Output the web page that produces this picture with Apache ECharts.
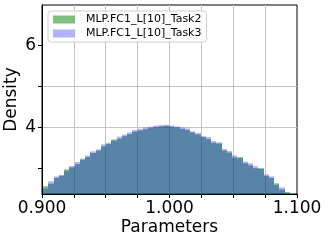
<!DOCTYPE html>
<html><head><meta charset="utf-8">
<script src="https://cdn.jsdelivr.net/npm/echarts@6/dist/echarts.min.js"></script>
<style>html,body{margin:0;padding:0;background:#fff}#c{width:329px;height:244px}</style>
</head><body><div id="c"></div>
<script>
const seriesNames = ['MLP.FC1_L[10]_Task2', 'MLP.FC1_L[10]_Task3'];
const binStart = 0.9008;
const binWidth = 0.00412;
const task2 = [2.56,2.62,2.76,2.82,2.97,3.02,3.10,3.23,3.27,3.37,3.43,3.53,3.59,3.70,3.72,3.78,3.83,3.89,3.92,3.95,3.98,4.00,4.02,4.03,4.01,3.99,3.96,3.93,3.87,3.82,3.76,3.71,3.62,3.60,3.43,3.38,3.26,3.27,3.12,3.07,3.00,3.00,2.81,2.76,2.63,2.48,2.42];
const task3 = [2.50,2.68,2.80,2.83,2.93,3.05,3.15,3.20,3.31,3.41,3.46,3.58,3.62,3.67,3.77,3.82,3.87,3.93,3.96,3.99,4.01,4.04,4.05,4.06,4.04,4.02,3.99,3.97,3.90,3.86,3.78,3.76,3.66,3.63,3.47,3.42,3.31,3.24,3.16,3.12,3.05,2.98,2.85,2.80,2.59,2.53,2.38];
const xTickLabels = [0.9, 1.0, 1.1];
const yTickValues = [3, 4, 5, 6];
const yTickLabels = [4, 6];
const yMin = 2.37, yMax = 6.98;

function toBins(vals){
  return vals.map((v,i)=>[binStart + i*binWidth, binStart + (i+1)*binWidth, v]);
}
function hist(name, vals, color){
  return {
    name, type:'custom', clip:true,
    itemStyle:{color},
    encode:{x:[0,1], y:2},
    data: toBins(vals),
    renderItem(params, api){
      const p0 = api.coord([api.value(0), api.value(2)]);
      const p1 = api.coord([api.value(1), yMin]);
      const xa = Math.round(p0[0]), xb = Math.round(p1[0]);
      return {type:'rect', shape:{x:xa, y:p0[1], width:xb-xa, height:p1[1]-p0[1]}, style:{fill:color}};
    }
  };
}
const font = 'DejaVu Sans';
const chart = echarts.init(document.getElementById('c'), null, {renderer:'canvas'});
chart.setOption({
  animation:false,
  backgroundColor:'#fff',
  grid:{left:42, right:32, top:5, bottom:50, outerBoundsMode:'none', containLabel:false,
        show:true, borderColor:'#000', borderWidth:1, backgroundColor:'transparent'},
  legend:{
    orient:'vertical', left:48, top:11, itemWidth:22, itemHeight:8, itemGap:3,
    padding:[3,5,3,5], backgroundColor:'rgba(255,255,255,0.85)', borderColor:'#d0d0d0', borderWidth:1, borderRadius:3,
    icon:'rect',
    textStyle:{fontFamily:font, fontSize:11, color:'#000', padding:[0,0,0,6]},
    data: seriesNames
  },
  xAxis:{
    type:'value', min:0.9, max:1.1, interval:0.025,
    axisLine:{show:true, lineStyle:{color:'#000'}},
    axisTick:{show:true, inside:false, length:4, lineStyle:{color:'#000'}},
    splitLine:{show:true, showMinLine:false, showMaxLine:false, lineStyle:{color:'#c4c4c4', width:1}},
    axisLabel:{
      customValues: xTickLabels,
      margin:6, fontFamily:font, fontSize:17, color:'#000',
      formatter:v=>v.toFixed(3)
    },
    name:'Parameters', nameLocation:'middle', nameGap:25, nameMoveOverlap:false,
    nameTextStyle:{fontFamily:font, fontSize:17, color:'#000'}
  },
  yAxis:{
    type:'value', min:yMin, max:yMax,
    axisLine:{show:true, lineStyle:{color:'#000'}},
    axisTick:{show:true, length:4, customValues: yTickValues, lineStyle:{color:'#000'}},
    splitLine:{show:true, showMinLine:false, showMaxLine:false, lineStyle:{color:'#c4c4c4', width:1}},
    axisLabel:{customValues: yTickLabels, margin:6, fontFamily:font, fontSize:17, color:'#000', formatter:v=>String(Math.round(v))},
    name:'Density', nameLocation:'middle', nameGap:22, nameMoveOverlap:false,
    nameTextStyle:{fontFamily:font, fontSize:17, color:'#000'}
  },
  series:[
    hist(seriesNames[0], task2, 'rgba(0,128,0,0.5)'),
    hist(seriesNames[1], task3, 'rgba(0,0,255,0.3)')
  ]
});
</script></body></html>
